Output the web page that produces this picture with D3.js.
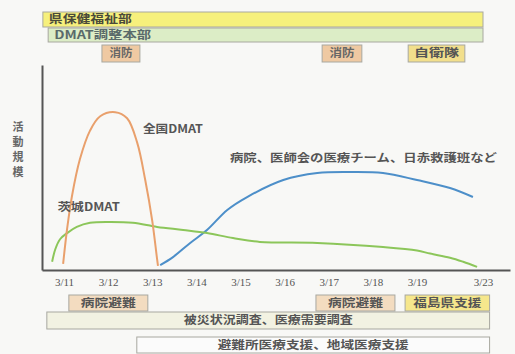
<!DOCTYPE html>
<html>
<head>
<meta charset="utf-8">
<script src="https://cdn.jsdelivr.net/npm/d3@7"></script>
<style>
  body { margin: 0; background: #f8f8f6; }
  svg { display: block; }
  .cjk { font-family: "Noto Sans CJK JP", sans-serif; font-weight: bold; }
</style>
</head>
<body>
<svg width="515" height="354"></svg>
<script>
// tick labels on the time axis (days of March)
var tickLabels = ["3/11", "3/12", "3/13", "3/14", "3/15", "3/16", "3/17", "3/18", "3/19", "3/23"];
var tickDays = [11, 12, 13, 14, 15, 16, 17, 18, 19, 23];

// activity curves (day, scale 0-100)
var zenkokuDays = [10.98, 11.07, 11.18, 11.36, 11.59, 11.82, 12.16, 12.43, 12.66, 12.84, 13.0, 13.1, 13.13];
var zenkokuValues = [3, 20, 36, 54, 68, 75, 77, 74, 62, 44, 24, 7, 2];

var ibarakiDays = [10.73, 10.8, 10.91, 11.07, 11.29, 11.59, 12.04, 12.56, 13.11, 13.7, 14.24, 14.83, 15.44, 16.74, 18.23, 19.0, 19.8, 21.0, 21.8, 22.64];
var ibarakiValues = [4, 10, 15, 18, 21, 23, 23.4, 23, 21, 19.5, 18, 15.6, 13.7, 13.2, 11.2, 9.5, 8, 6, 4, 1.5];

var iryoDays = [13.18, 13.47, 13.86, 14.24, 14.7, 15.15, 15.97, 16.74, 17.49, 18.23, 19.0, 21.0, 22.39];
var iryoValues = [2.4, 6.3, 13.2, 19.5, 29.3, 35.6, 43.9, 47.3, 47.8, 47.3, 43.9, 40, 35.6];

var seriesNames = ["全国DMAT", "茨城DMAT", "病院、医師会の医療チーム、日赤救護班など"];

// timeline boxes above and below the chart
var topNames = ["県保健福祉部", "DMAT調整本部", "消防", "消防", "自衛隊"];
var topStart = [10.52, 10.64, 11.86, 16.85, 18.8];
var topEnd = [23, 23, 12.72, 17.75, 21.9];
var topRow = [0, 1, 2, 2, 2];

var bottomNames = ["病院避難", "病院避難", "福島県支援", "被災状況調査、医療需要調査", "避難所医療支援、地域医療支援"];
var bottomStart = [11.11, 16.71, 18.73, 10.61, 12.65];
var bottomEnd = [12.9, 18.5, 23.4, 23.4, 23.4];
var bottomRow = [0, 0, 0, 1, 2];

var yLabel = "活動規模";

var svg = d3.select("svg");

// the axis is not evenly spaced after 3/19, so piecewise scale
var x = d3.scaleLinear()
  .domain([10.5, 11, 19, 23, 24.64])
  .range([42, 64, 417, 483, 510]);
var y = d3.scaleLinear().domain([0, 100]).range([270, 65]);

// boxes
var topRows = [[12, 15], [28, 14], [45, 17]];
var bottomRows = [[295, 16], [312, 17], [337, 16]];
var topFill = ["#f6f07c", "#dcedc6", "#efc9a2", "#efc9a2", "#f2df8c"];
var topText = ["#4a4a3a", "#5a6a6a", "#666", "#666", "#555"];
var topLen = [83, 97, 23, 25, 45];
var topAlign = ["start", "start", "middle", "middle", "middle"];
var bottomFill = ["#f3dcc0", "#f3dcc0", "#f6e78c", "#f2f2e2", "#fbfbfb"];
var bottomLen = [55, 55, 68, 169, 191];

function drawBoxes(names, start, end, row, rows, fills, lens, aligns, colors) {
  var g = svg.append("g");
  names.forEach(function(n, i) {
    var r = rows[row[i]];
    var x0 = x(start[i]), x1 = x(end[i]);
    g.append("rect")
      .attr("x", x0).attr("y", r[0])
      .attr("width", x1 - x0).attr("height", r[1])
      .attr("fill", fills[i])
      .attr("stroke", "#a8a8a0").attr("stroke-width", 1);
    var al = aligns ? aligns[i] : "middle";
    g.append("text")
      .attr("class", "cjk")
      .attr("x", al == "start" ? x0 + 6 : (x0 + x1) / 2)
      .attr("y", r[0] + r[1] / 2)
      .attr("dy", "0.36em")
      .attr("text-anchor", al)
      .attr("font-size", 11)
      .attr("textLength", lens[i])
      .attr("lengthAdjust", "spacingAndGlyphs")
      .attr("fill", colors ? colors[i] : "#555")
      .text(n);
  });
}

drawBoxes(topNames, topStart, topEnd, topRow, topRows, topFill, topLen, topAlign, topText);
drawBoxes(bottomNames, bottomStart, bottomEnd, bottomRow, bottomRows, bottomFill, bottomLen, null, null);

// axes
var xAxis = svg.append("g")
  .attr("transform", "translate(0," + y(0) + ")")
  .call(d3.axisBottom(x).tickValues(tickDays).tickSize(0).tickPadding(8)
    .tickFormat(function(d, i) { return tickLabels[i]; }));
xAxis.select(".domain").attr("stroke", "#555").attr("stroke-width", 2);
xAxis.selectAll("text")
  .attr("font-family", "Liberation Serif, serif")
  .attr("font-size", 11)
  .attr("fill", "#555");

var yAxis = svg.append("g")
  .attr("transform", "translate(" + x(10.5) + ",0)")
  .call(d3.axisLeft(y).ticks(0).tickSize(0));
yAxis.select(".domain").attr("stroke", "#555").attr("stroke-width", 2);

// y label, one character per line
svg.append("g").selectAll("text")
  .data(yLabel.split(""))
  .enter().append("text")
  .attr("class", "cjk")
  .attr("x", 18)
  .attr("y", function(d, i) { return 127 + i * 15; })
  .attr("dy", "0.36em")
  .attr("text-anchor", "middle")
  .attr("font-size", 11)
  .attr("fill", "#666")
  .text(function(d) { return d; });

// curves
var line = d3.line()
  .x(function(d) { return x(d[0]); })
  .y(function(d) { return y(d[1]); })
  .curve(d3.curveCatmullRom);

var series = [
  { days: iryoDays, values: iryoValues, color: "#4d8fc9" },
  { days: ibarakiDays, values: ibarakiValues, color: "#8cc65a" },
  { days: zenkokuDays, values: zenkokuValues, color: "#e9a06c" }
];
series.forEach(function(s) {
  svg.append("path")
    .datum(d3.zip(s.days, s.values))
    .attr("fill", "none")
    .attr("stroke", s.color)
    .attr("stroke-width", 2)
    .attr("d", line);
});

// series labels
var labelAt = [[12.79, 69, 60], [10.86, 30.7, 62], [14.76, 54.6, 267]];
seriesNames.forEach(function(n, i) {
  svg.append("text")
    .attr("class", "cjk")
    .attr("x", x(labelAt[i][0]))
    .attr("y", y(labelAt[i][1]))
    .attr("dy", "0.36em")
    .attr("font-size", 11)
    .attr("textLength", labelAt[i][2])
    .attr("lengthAdjust", "spacingAndGlyphs")
    .attr("fill", "#555")
    .text(n);
});
</script>
</body>
</html>
